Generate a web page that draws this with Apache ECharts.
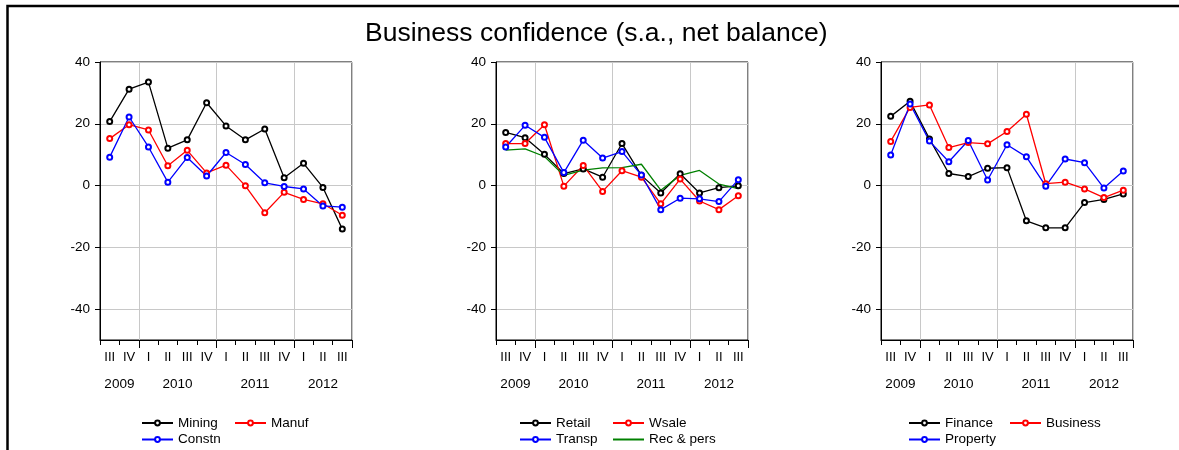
<!DOCTYPE html>
<html>
<head>
<meta charset="utf-8">
<script src="https://cdn.jsdelivr.net/npm/echarts@6/dist/echarts.min.js"></script>
<style>html,body{margin:0;padding:0;background:#fff;}#c{width:1179px;height:450px;}</style>
</head>
<body>
<div id="c"></div>
<script>
// ---- data ----
const quarters = ['III','IV','I','II','III','IV','I','II','III','IV','I','II','III'];
const years = ['2009','2010','2011','2012'];
const yTickLabels = [-40, -20, 0, 20, 40];

const mining   = [20.7, 31.2, 33.5, 12.1, 14.8, 26.8, 19.3, 14.8, 18.3, 2.5, 7.2, -0.6, -14.1];
const manuf    = [15.2, 19.7, 18.0, 6.4, 11.4, 4.1, 6.6, -0.1, -8.8, -2.2, -4.5, -5.9, -9.6];
const constn   = [9.2, 22.2, 12.5, 1.1, 9.1, 3.1, 10.7, 6.8, 0.9, -0.3, -1.1, -6.6, -7.0];

const retail   = [17.2, 15.5, 10.1, 3.9, 5.4, 2.7, 13.6, 3.3, -2.4, 3.8, -2.4, -0.7, -0.1];
const wsale    = [13.6, 13.6, 19.7, -0.2, 6.5, -1.9, 4.8, 2.7, -5.9, 2.1, -5.0, -7.8, -3.3];
const transp   = [12.5, 19.5, 15.6, 4.2, 14.7, 8.9, 11.0, 3.4, -7.8, -4.1, -4.3, -5.2, 1.9];
const recPers  = [11.5, 11.9, 9.4, 3.3, 5.0, 5.7, 5.8, 6.9, -1.5, 3.3, 4.9, 0.5, -1.0];

const finance  = [22.4, 27.3, 15.1, 3.9, 2.9, 5.6, 5.8, -11.4, -13.7, -13.7, -5.5, -4.5, -2.7];
const business = [14.3, 25.3, 26.1, 12.3, 13.9, 13.5, 17.5, 23.1, 0.6, 1.1, -1.1, -3.9, -1.5];
const property = [9.9, 26.4, 14.4, 7.7, 14.6, 1.8, 13.2, 9.3, -0.2, 8.6, 7.4, -0.8, 4.7];

// ---- build year label positions (half-quarter slots) from the quarter list ----
const yearSlots = new Array(quarters.length * 2 + 1).fill('');
(function () {
  let yi = 0, first = 0;
  for (let i = 0; i <= quarters.length; i++) {
    if (i === quarters.length || (i > 0 && quarters[i] === 'I')) {
      yearSlots[first + (i - 1) + 1] = years[yi];
      yi++; first = i;
    }
  }
})();
// boundary before a first quarter
const isYearStart = (i) => quarters[i] === 'I';

const FONT = 'Liberation Sans, Arial, sans-serif';
const panels = [
  { left: 100, series: [['Mining', mining, '#000000', true], ['Manuf', manuf, '#ff0000', true], ['Constn', constn, '#0000ff', true]],
    col1: ['Mining', 'Constn'], col2: ['Manuf'], leg1: 141, leg2: 234 },
  { left: 496, series: [['Retail', retail, '#000000', true], ['Wsale', wsale, '#ff0000', true], ['Transp', transp, '#0000ff', true], ['Rec & pers', recPers, '#008000', false]],
    col1: ['Retail', 'Transp'], col2: ['Wsale', 'Rec & pers'], leg1: 519, leg2: 612 },
  { left: 881, series: [['Finance', finance, '#000000', true], ['Business', business, '#ff0000', true], ['Property', property, '#0000ff', true]],
    col1: ['Finance', 'Property'], col2: ['Business'], leg1: 908, leg2: 1009 }
];
const noSymbol = new Set(['Rec & pers']);

const grid = [], xAxis = [], yAxis = [], series = [], legend = [];
panels.forEach((p, gi) => {
  grid.push({ left: p.left, top: 62, width: 252, height: 278, show: true, borderColor: '#000', borderWidth: 1, backgroundColor: 'transparent' });
  // quarter axis
  xAxis.push({
    type: 'category', gridIndex: gi, position: 'bottom', data: quarters, boundaryGap: true,
    axisLine: { show: true, onZero: false, lineStyle: { color: '#000', width: 1 } },
    axisTick: { show: true, interval: 0, length: 5, lineStyle: { color: '#000' } },
    axisLabel: { interval: 0, margin: 11, color: '#000', fontSize: 13, fontFamily: FONT },
    splitLine: { show: true, interval: isYearStart, lineStyle: { color: '#c8c8c8', width: 1 } }
  });
  // long ticks at year boundaries
  xAxis.push({
    type: 'category', gridIndex: gi, position: 'bottom', data: quarters, boundaryGap: true,
    axisLine: { show: false, onZero: false },
    axisTick: { show: true, interval: isYearStart, length: 8, lineStyle: { color: '#000' } },
    axisLabel: { show: false }, splitLine: { show: false }
  });
  // year labels
  xAxis.push({
    type: 'category', gridIndex: gi, position: 'bottom', data: yearSlots, boundaryGap: false,
    axisLine: { show: false, onZero: false }, axisTick: { show: false },
    axisLabel: { interval: 0, margin: 37, color: '#000', fontSize: 13.5, fontFamily: FONT },
    splitLine: { show: false }
  });
  yAxis.push({
    type: 'value', gridIndex: gi, min: -50, max: 40, interval: 10,
    axisLine: { show: true, lineStyle: { color: '#000', width: 1 } },
    axisTick: { show: true, length: 5, customValues: yTickLabels, lineStyle: { color: '#000' } },
    axisLabel: { margin: 10, color: '#000', fontSize: 13.5, fontFamily: FONT, customValues: yTickLabels },
    splitLine: { show: true, lineStyle: { color: '#c8c8c8', width: 1 } }
  });
  p.series.forEach(([name, data, color, sym]) => {
    series.push({
      type: 'line', name, data, xAxisIndex: gi * 3, yAxisIndex: gi,
      symbol: sym ? 'emptyCircle' : 'none', symbolSize: 5, showSymbol: sym,
      lineStyle: { color, width: 1.3 }, itemStyle: { color, borderWidth: 1 },
      emphasis: { disabled: true }, z: 3
    });
  });
  [[p.col1, p.leg1], [p.col2, p.leg2]].forEach(([names, x]) => {
    legend.push({
      data: names.map(n => noSymbol.has(n) ? { name: n, itemStyle: { opacity: 0 } } : n),
      left: x, top: 416, orient: 'vertical', itemGap: 2.5,
      itemWidth: 31, itemHeight: 6, padding: 0,
      textStyle: { color: '#000', fontSize: 13.5, fontFamily: FONT }, selectedMode: false
    });
  });
});

const chart = echarts.init(document.getElementById('c'), null, { renderer: 'canvas' });
chart.setOption({
  animation: false,
  backgroundColor: '#fff',
  title: { text: 'Business confidence (s.a., net balance)', left: 365, top: 20, padding: 0,
    textStyle: { fontSize: 26.5, fontWeight: 'normal', color: '#000', fontFamily: FONT } },
  graphic: [{ type: 'rect', shape: { x: 7.5, y: 6, width: 1200, height: 500 }, style: { fill: 'none', stroke: '#000', lineWidth: 2.5 }, silent: true }],
  grid, xAxis, yAxis, series, legend
});
</script>
</body>
</html>
